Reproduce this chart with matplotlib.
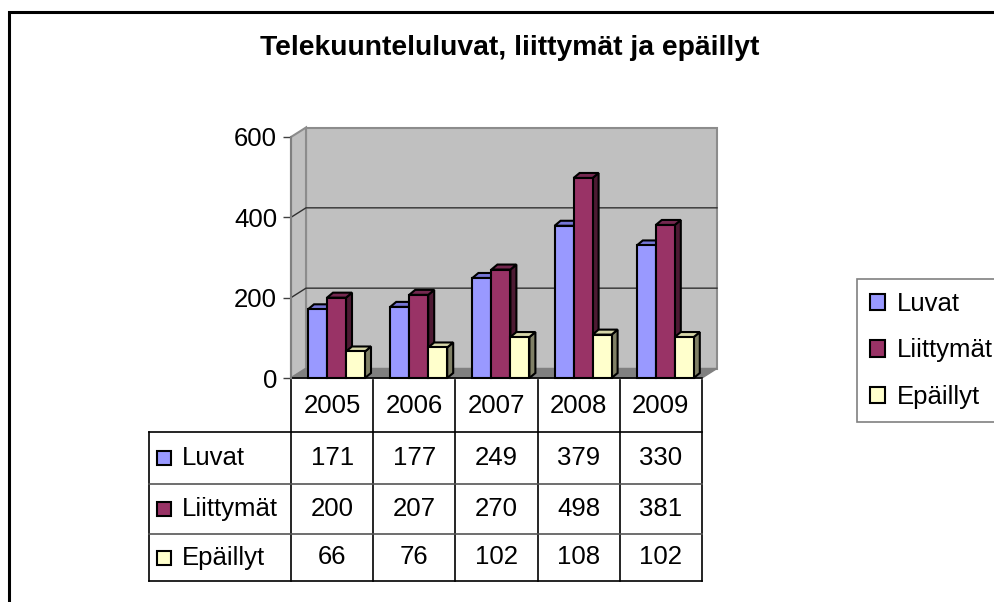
import numpy as np
import matplotlib
matplotlib.use('Agg')
import matplotlib.pyplot as plt
from matplotlib.patches import Polygon, Rectangle, Patch
import matplotlib.transforms as mtransforms

plt.rcParams['font.family'] = ['Liberation Sans', 'DejaVu Sans']

# Data
otsikko = 'Telekuunteluluvat, liittymät ja epäillyt'
vuodet = ['2005', '2006', '2007', '2008', '2009']
sarjat = ['Luvat', 'Liittymät', 'Epäillyt']
luvat = [171, 177, 249, 379, 330]
liittymat = [200, 207, 270, 498, 381]
epaillyt = [66, 76, 102, 108, 102]
arvot = [luvat, liittymat, epaillyt]
y_ticks = [0, 200, 400, 600]

# Colours: front, top, side face
etu = ['#9999FF', '#993366', '#FFFFCC']
kansi = ['#7676D6', '#74284F', '#D6D6A8']
kylki = ['#5A5AA8', '#4D1A33', '#808066']

W, H, DPI = 995, 602, 100
fig = plt.figure(figsize=(W / DPI, H / DPI), dpi=DPI)
fig.patch.set_facecolor('white')

# plot area (pixels, from top-left)
x0, x1 = 291, 702
y0, y1 = 378, 137
n = len(vuodet)
ymax = y_ticks[-1]
ax = fig.add_axes([x0 / W, 1 - y0 / H, (x1 - x0) / W, (y0 - y1) / H])
ax.set_xlim(0, n)
ax.set_ylim(0, ymax)
ax.patch.set_visible(False)

sx = (x1 - x0) / n        # px per category
sy = (y0 - y1) / ymax     # px per value unit
sein_dx, sein_dy = 15 / sx, 9.5 / sy
pyl_dx, pyl_dy = 6 / sx, 5 / sy
alku, leveys = 17 / sx, 19 / sx

# walls and floor
ax.add_patch(Rectangle((sein_dx, sein_dy), n, ymax, fc='#C0C0C0', ec='#8C8C8C',
                       lw=1.5, clip_on=False, zorder=0.5))
ax.add_patch(Polygon([(0, 0), (sein_dx, sein_dy), (sein_dx, ymax + sein_dy), (0, ymax)],
                     fc='#C0C0C0', ec='#8C8C8C', lw=1.5, clip_on=False, zorder=0.6))
ax.add_patch(Polygon([(0, 0), (n, 0), (n + sein_dx, sein_dy), (sein_dx, sein_dy)],
                     fc='#808080', ec='#808080', lw=1, clip_on=False, zorder=0.7))
for v in y_ticks[1:-1]:
    ax.plot([0, sein_dx, n + sein_dx], [v, v + sein_dy, v + sein_dy],
            color='#303030', lw=1, clip_on=False, zorder=1)

# 3D bars
for k in range(len(sarjat)):
    xs = np.arange(n) + alku + k * leveys
    z = 3 + k
    for xi, v in zip(xs, arvot[k]):
        ax.add_patch(Polygon([(xi + leveys, 0), (xi + leveys + pyl_dx, pyl_dy),
                              (xi + leveys + pyl_dx, v + pyl_dy), (xi + leveys, v)],
                             fc=kylki[k], ec='black', lw=1.5, zorder=z, clip_on=False))
        ax.add_patch(Polygon([(xi, v), (xi + leveys, v), (xi + leveys + pyl_dx, v + pyl_dy),
                              (xi + pyl_dx, v + pyl_dy)],
                             fc=kansi[k], ec='black', lw=1.5, zorder=z, clip_on=False))
    ax.bar(xs, arvot[k], width=leveys, align='edge', color=etu[k], edgecolor='black',
           lw=1.5, zorder=z + 0.5, clip_on=False)

# axis
for s in ['top', 'right']:
    ax.spines[s].set_visible(False)
ax.spines['left'].set_color('#808080')
ax.spines['left'].set_linewidth(1.5)
ax.spines['bottom'].set_color('black')
ax.spines['bottom'].set_linewidth(1.2)
ax.spines['bottom'].set_zorder(2)
ax.set_xticks([])
ax.set_yticks(y_ticks)
ax.tick_params(axis='y', length=6, width=1, color='#404040', labelsize=18.5, pad=4)

# data table
tr = mtransforms.blended_transform_factory(ax.transData, fig.transFigure)
rivit = [380, 432, 484, 534, 581]
vasen = (149 - x0) / sx
fy = lambda p: 1 - p / H

for i in range(n + 1):
    ax.plot([i, i], [fy(rivit[0]), fy(rivit[-1])], transform=tr, color='black',
            lw=1.2, clip_on=False)
ax.plot([vasen, vasen], [fy(rivit[1]), fy(rivit[-1])], transform=tr, color='black',
        lw=1.2, clip_on=False)
for j, r in enumerate(rivit[1:]):
    vari = 'black' if j in (0, 3) else '#555555'
    ax.plot([vasen, n], [fy(r), fy(r)], transform=tr, color=vari, lw=1.2, clip_on=False)

for i, vuosi in enumerate(vuodet):
    ax.text(i + 0.5, fy((rivit[0] + rivit[1]) / 2), vuosi, transform=tr,
            ha='center', va='center', fontsize=18.5)
for k, nimi in enumerate(sarjat):
    yc = fy((rivit[k + 1] + rivit[k + 2]) / 2)
    for i, v in enumerate(arvot[k]):
        ax.text(i + 0.5, yc, str(v), transform=tr, ha='center', va='center', fontsize=18.5)
    fig.patches.append(Rectangle((157 / W, yc - 7 / H), 14 / W, 14 / H, fc=etu[k], ec='black',
                                 lw=1.5, transform=fig.transFigure))
    fig.text(182 / W, yc, nimi, ha='left', va='center', fontsize=18.5)

# legend
kahvat = [Patch(facecolor=etu[k], edgecolor='black', lw=1.5) for k in range(len(sarjat))]
leg = fig.legend(kahvat, sarjat, loc='upper left', bbox_to_anchor=(857 / W, 1 - 279 / H),
                 fontsize=18.5, frameon=True, fancybox=False, borderaxespad=0,
                 handlelength=0.6, handleheight=0.6, handletextpad=0.45,
                 borderpad=0.5, labelspacing=0.88)
leg.get_frame().set_edgecolor('#606060')
leg.get_frame().set_linewidth(1.2)

# title
fig.text(510 / W, 1 - 48 / H, otsikko, ha='center', va='center', fontsize=20.3,
         fontweight='bold')

# outer frame
fig.patches.append(Rectangle((9 / W, -0.2), 1.2, 1.2 - 11.5 / H, fill=False, ec='black',
                             lw=2.2, transform=fig.transFigure))

fig.savefig('out.png', dpi=DPI)
